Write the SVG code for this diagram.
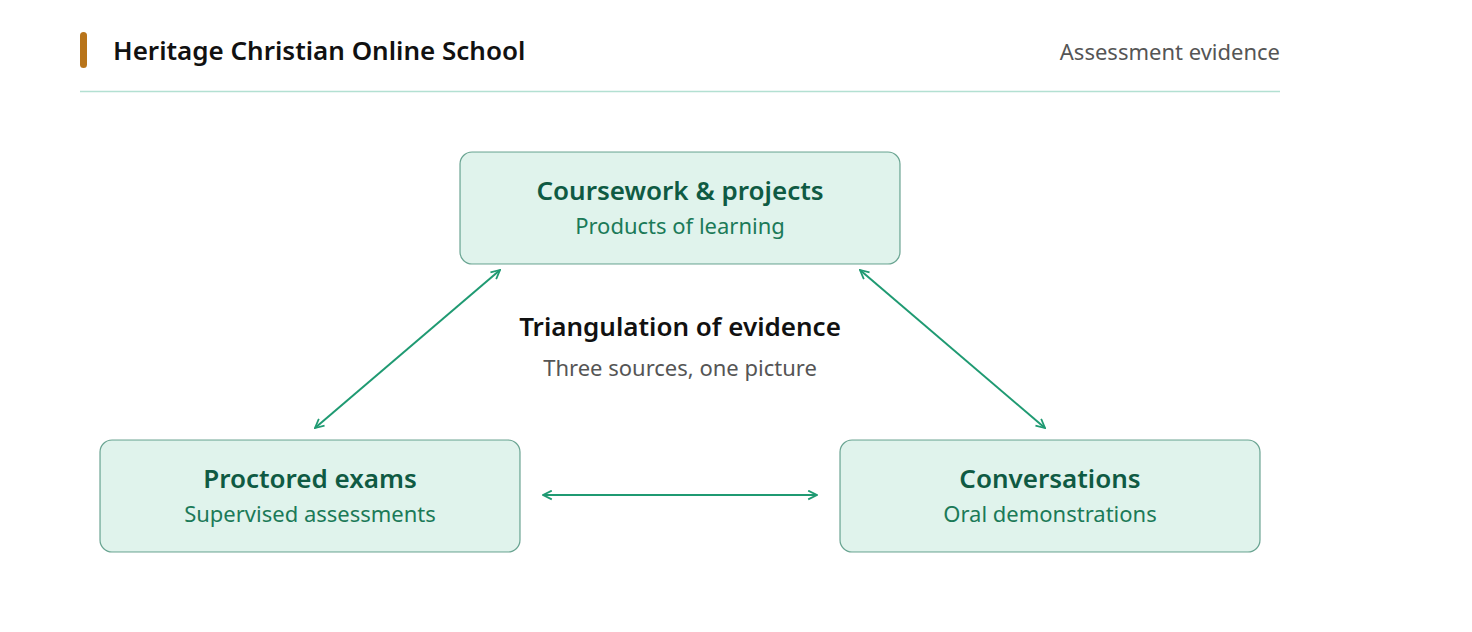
<svg xmlns="http://www.w3.org/2000/svg" width="1472" height="632" viewBox="0 0 1472 632">
<defs>
<style>
text{font-family:"Noto Sans","Open Sans","Liberation Sans",sans-serif}
.box{fill:#e0f3ec;stroke:#0f6b4e;stroke-opacity:0.6;stroke-width:1.2}
.nt{font-size:26px;font-weight:600;fill:#0f5a43;text-anchor:middle}
.ns{font-size:22px;fill:#1b7a58;text-anchor:middle}
.conn{stroke:#1f9a72;stroke-width:2;fill:none;marker-start:url(#ah);marker-end:url(#ah)}
</style>
<marker id="ah" viewBox="0 0 10 10" refX="9" refY="5" markerWidth="11" markerHeight="11" markerUnits="userSpaceOnUse" orient="auto-start-reverse">
<path d="M1,1 L9,5 L1,9" fill="none" stroke="#1f9a72" stroke-width="1.6"/>
</marker>
</defs>
<rect width="1472" height="632" fill="#ffffff"/>
<g id="header">
<rect x="80" y="32" width="7" height="36" rx="3.5" fill="#b8741a"/>
<text x="113" y="60" font-size="26" font-weight="600" fill="#111">Heritage Christian Online School</text>
<text x="1280" y="60" font-size="22" fill="#555" text-anchor="end">Assessment evidence</text>
<line x1="80" y1="91.5" x2="1280" y2="91.5" stroke="#b3e0d2" stroke-width="1.5"/>
</g>
<g id="connectors">
<line class="conn" x1="500" y1="270" x2="315" y2="428"/>
<line class="conn" x1="860" y1="270" x2="1045" y2="428"/>
<line class="conn" x1="543" y1="495" x2="817" y2="495"/>
</g>
<g id="center-label">
<text x="680" y="336" font-size="26" font-weight="600" fill="#111" text-anchor="middle">Triangulation of evidence</text>
<text x="680" y="376" font-size="22" fill="#555" text-anchor="middle">Three sources, one picture</text>
</g>
<g id="node-coursework">
<rect class="box" x="460" y="152" width="440" height="112" rx="12"/>
<text class="nt" x="680" y="200">Coursework &amp; projects</text>
<text class="ns" x="680" y="234">Products of learning</text>
</g>
<g id="node-exams">
<rect class="box" x="100" y="440" width="420" height="112" rx="12"/>
<text class="nt" x="310" y="488">Proctored exams</text>
<text class="ns" x="310" y="522">Supervised assessments</text>
</g>
<g id="node-conversations">
<rect class="box" x="840" y="440" width="420" height="112" rx="12"/>
<text class="nt" x="1050" y="488">Conversations</text>
<text class="ns" x="1050" y="522">Oral demonstrations</text>
</g>
</svg>
